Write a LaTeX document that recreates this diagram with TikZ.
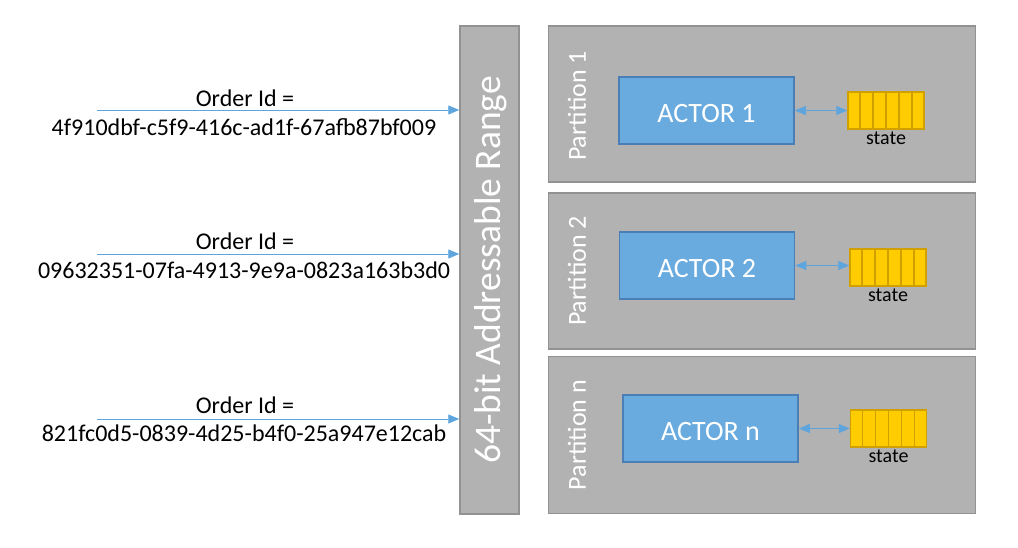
\documentclass[tikz,border=0pt]{standalone}
\usepackage{fontspec}
\setmainfont{Carlito}
\usetikzlibrary{arrows.meta,calc}
\definecolor{boxgray}{HTML}{B2B2B2}
\definecolor{boxedge}{HTML}{929292}
\definecolor{actorfill}{HTML}{69ABDE}
\definecolor{actoredge}{HTML}{4A7EB5}
\definecolor{statefill}{HTML}{FFCC00}
\definecolor{stateedge}{HTML}{D0A000}
\definecolor{arrowblue}{HTML}{5EA5DE}
\tikzset{
  graybox/.style={draw=boxedge, fill=boxgray, line width=1.5pt, inner sep=0pt},
  actorbox/.style={draw=actoredge, fill=actorfill, line width=1.5pt, text=white, inner sep=0pt, minimum width=175pt, minimum height=67pt, text height=23pt, text depth=0pt, font=\fontsize{28}{32}\selectfont},
  statebox/.style={draw=stateedge, fill=statefill, line width=1.5pt, inner sep=0pt, minimum width=76pt, minimum height=37pt},
  statelabel/.style={font=\fontsize{20}{22}\selectfont, inner sep=0pt},
  plabel/.style={text=white, rotate=90, font=\fontsize{26}{30}\selectfont, inner sep=0pt},
  idtext/.style={font=\fontsize{24}{28}\selectfont, inner sep=0pt},
  inarrow/.style={draw=arrowblue, line width=0.9pt, -{Triangle[length=11pt,width=9pt]}},
  duoarrow/.style={draw=arrowblue, line width=0.9pt, {Triangle[length=11pt,width=9pt]}-{Triangle[length=11pt,width=9pt]}}
}
\begin{document}
\begin{tikzpicture}[x=1pt,y=-1pt]
\useasboundingbox (0,0) rectangle (1018,547);
% range
\node[graybox, minimum width=59pt, minimum height=488pt] (range) at (489.5,270) {};
\node[text=white, rotate=90, font=\fontsize{37.5}{40}\selectfont, inner sep=0pt] (rangelabel) at (491,270) {64-bit Addressable Range};
% partitions
\node[graybox, minimum width=427pt, minimum height=156pt] (p1) at (762,104) {};
\node[graybox, minimum width=427pt, minimum height=156pt] (p2) at (762,271) {};
\node[graybox, minimum width=427pt, minimum height=157pt] (pn) at (762,435) {};
\node[plabel] (p1l) at (577,106) {Partition 1};
\node[plabel] (p2l) at (577,271) {Partition 2};
\node[plabel] (pnl) at (577,435) {Partition n};
% actors
\node[actorbox] (a1) at (706.5,110.5) {ACTOR 1};
\node[actorbox] (a2) at (707,265.5) {ACTOR 2};
\node[actorbox] (an) at (710.5,428.5) {ACTOR n};
% states
\node[statebox] (s1) at (886,110.5) {};
\node[statebox] (s2) at (888,267.5) {};
\node[statebox] (sn) at (888.5,428.5) {};
\foreach \s in {s1,s2,sn}{
  \foreach \i in {1,...,5}{
    \draw[stateedge, line width=1.5pt] ($(\s.north west)!\i/6!(\s.north east)$) -- ($(\s.south west)!\i/6!(\s.south east)$);
  }
}
\node[statelabel, anchor=north] (s1l) at ([yshift=-1.5pt]s1.south) {state};
\node[statelabel, anchor=north] (s2l) at ([yshift=-1.5pt]s2.south) {state};
\node[statelabel, anchor=north] (snl) at ([yshift=-1.5pt]sn.south) {state};
% double arrows
\draw[duoarrow] (a1.east) -- (a1.east -| s1.west);
\draw[duoarrow] (a2.east) -- (a2.east -| s2.west);
\draw[duoarrow] (an.east) -- (an.east -| sn.west);
% incoming arrows
\coordinate (o1) at (97,110);
\coordinate (o2) at (97,254);
\coordinate (o3) at (97,419);
\draw[inarrow] (o1) -- (o1 -| range.west);
\draw[inarrow] (o2) -- (o2 -| range.west);
\draw[inarrow] (o3) -- (o3 -| range.west);
\node[idtext, anchor=base] (t1a) at (245,106) {Order Id =};
\node[idtext, anchor=base] (t1b) at (244,135) {4f910dbf-c5f9-416c-ad1f-67afb87bf009};
\node[idtext, anchor=base] (t2a) at (245,249) {Order Id =};
\node[idtext, anchor=base] (t2b) at (244,278) {09632351-07fa-4913-9e9a-0823a163b3d0};
\node[idtext, anchor=base] (t3a) at (245,413) {Order Id =};
\node[idtext, anchor=base] (t3b) at (244,441) {821fc0d5-0839-4d25-b4f0-25a947e12cab};
\end{tikzpicture}
\end{document}
